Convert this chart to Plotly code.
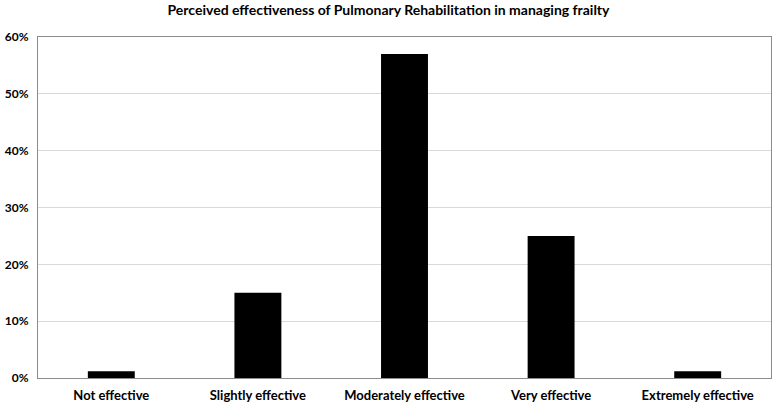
import plotly.graph_objects as go

categories = ["Not effective", "Slightly effective", "Moderately effective", "Very effective", "Extremely effective"]
values = [0.012, 0.15, 0.57, 0.25, 0.012]
y_ticks = [0, 0.1, 0.2, 0.3, 0.4, 0.5, 0.6]
y_tick_labels = ["0%", "10%", "20%", "30%", "40%", "50%", "60%"]

fig = go.Figure(go.Bar(x=categories, y=values, marker=dict(color="black", line=dict(width=0))))

fig.update_layout(
    width=777, height=404,
    margin=dict(l=38, r=6, t=37, b=26),
    paper_bgcolor="white", plot_bgcolor="white",
    bargap=0.68,
    showlegend=False,
    title=dict(text="<b>Perceived effectiveness of Pulmonary Rehabilitation in managing frailty</b>",
               x=0.5, xanchor="center", y=0.987, yanchor="top",
               font=dict(family="Lato, Open Sans, sans-serif", size=14, color="black")),
    font=dict(family="Lato, Open Sans, sans-serif", size=12, color="black"),
)
fig.update_xaxes(showline=True, linecolor="#8c8c8c", linewidth=1, mirror=True,
                 tickfont=dict(size=13), ticks="", showgrid=False, ticklabelstandoff=5,
                 automargin=False,
                 tickprefix="<b>", ticksuffix="</b>")
fig.update_yaxes(range=[0, 0.6], tickvals=y_ticks, ticktext=["<b>%s</b>" % t for t in y_tick_labels],
                 showline=True, linecolor="#8c8c8c", linewidth=1, mirror=True,
                 gridcolor="#d9d9d9", gridwidth=1, ticks="", ticklabelstandoff=6,
                 automargin=False, zeroline=False)

fig.write_html("out.html")
